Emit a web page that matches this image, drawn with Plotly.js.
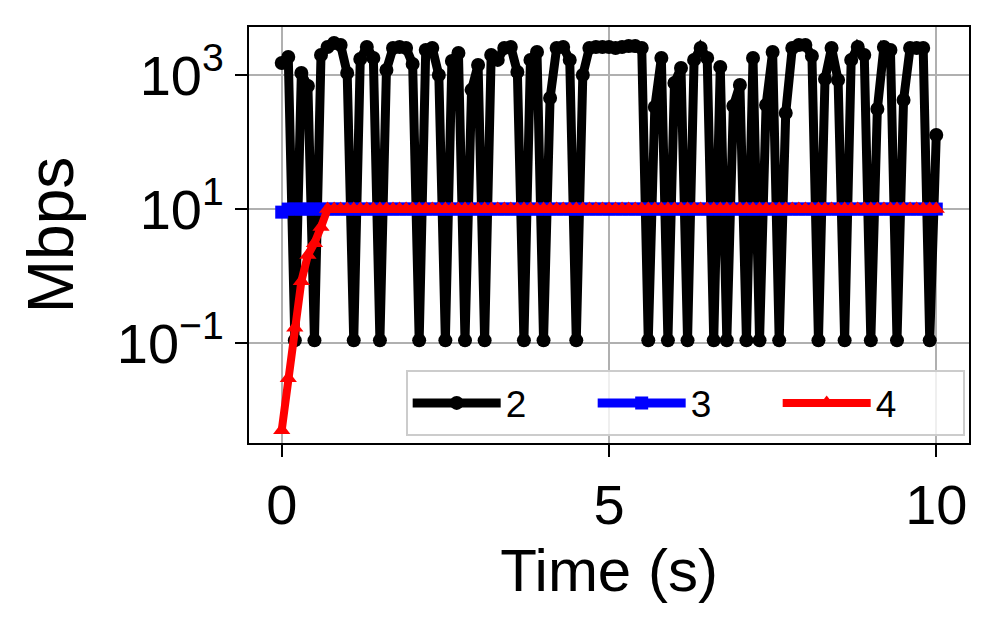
<!DOCTYPE html>
<html>
<head>
<meta charset="utf-8">
<script src="https://cdn.plot.ly/plotly-3.0.1.min.js"></script>
<style>html,body{margin:0;padding:0;background:#fff;}#chart{width:998px;height:629px;}</style>
</head>
<body>
<div id="chart"></div>
<script>
const timeS = [0,0.1,0.2,0.3,0.4,0.5,0.6,0.7,0.8,0.9,1,1.1,1.2,1.3,1.4,1.5,1.6,1.7,1.8,1.9,2,2.1,2.2,2.3,2.4,2.5,2.6,2.7,2.8,2.9,3,3.1,3.2,3.3,3.4,3.5,3.6,3.7,3.8,3.9,4,4.1,4.2,4.3,4.4,4.5,4.6,4.7,4.8,4.9,5,5.1,5.2,5.3,5.4,5.5,5.6,5.7,5.8,5.9,6,6.1,6.2,6.3,6.4,6.5,6.6,6.7,6.8,6.9,7,7.1,7.2,7.3,7.4,7.5,7.6,7.7,7.8,7.9,8,8.1,8.2,8.3,8.4,8.5,8.6,8.7,8.8,8.9,9,9.1,9.2,9.3,9.4,9.5,9.6,9.7,9.8,9.9,10];

const series2 = [1510,1860,0.11,1070,685,0.11,1990,2620,3000,2800,
  1070,0.11,1730,2620,1790,0.11,1190,2530,2620,2530,
  1460,0.11,2360,2530,1000,0.11,1620,2130,0.11,600,
  1410,0.11,1990,1680,2530,2620,1110,0.11,1680,2200,
  0.11,454,2530,2620,1680,0.11,1000,2530,2620,2620,
  2620,2530,2620,2710,2710,2530,0.11,333,1790,0.11,
  760,1270,0.11,1680,2530,1790,0.11,1320,0.11,345,
  709,0.11,1790,0.11,357,2200,0.11,271,2530,2800,
  2800,1920,0.11,871,2530,842,0.11,1680,2620,1990,
  0.11,311,2620,2360,0.11,424,2530,2530,2530,0.11,
  127];

const series3 = [9,10,10,10,10,10,10,10,10,10,
  10,10,10,10,10,10,10,10,10,10,
  10,10,10,10,10,10,10,10,10,10,
  10,10,10,10,10,10,10,10,10,10,
  10,10,10,10,10,10,10,10,10,10,
  10,10,10,10,10,10,10,10,10,10,
  10,10,10,10,10,10,10,10,10,10,
  10,10,10,10,10,10,10,10,10,10,
  10,10,10,10,10,10,10,10,10,10,
  10,10,10,10,10,10,10,10,10,10,
  10];

const series4 = [0.005,0.03,0.17,0.84,2.06,3.1,5.4,10,10,10,
  10,10,10,10,10,10,10,10,10,10,
  10,10,10,10,10,10,10,10,10,10,
  10,10,10,10,10,10,10,10,10,10,
  10,10,10,10,10,10,10,10,10,10,
  10,10,10,10,10,10,10,10,10,10,
  10,10,10,10,10,10,10,10,10,10,
  10,10,10,10,10,10,10,10,10,10,
  10,10,10,10,10,10,10,10,10,10,
  10,10,10,10,10,10,10,10,10,10,
  10];

const seriesNames = ['2','3','4'];
const xTickVals = [0,5,10];
const xTickText = ['0','5','10'];
const yTickVals = [0.1,10,1000];
const yTickText = ['10<sup>\u22121</sup>','10<sup>1</sup>','10<sup>3</sup>'];

const FONT = 'Liberation Sans, Arial, Helvetica, sans-serif';

const traces = [
  {x: timeS, y: series2, name: seriesNames[0], type: 'scatter', mode: 'lines+markers',
   line: {color: '#000000', width: 9}, marker: {symbol: 'circle', size: 14, color: '#000000'}},
  {x: timeS, y: series3, name: seriesNames[1], type: 'scatter', mode: 'lines+markers',
   line: {color: '#0000ff', width: 9}, marker: {symbol: 'square', size: 13, color: '#0000ff'}},
  {x: timeS, y: series4, name: seriesNames[2], type: 'scatter', mode: 'lines+markers',
   line: {color: '#ff0000', width: 8}, marker: {symbol: 'triangle-up', size: 15, color: '#ff0000'}}
];

const layout = {
  width: 998, height: 629,
  margin: {l: 249, r: 29, t: 27, b: 186},
  paper_bgcolor: '#ffffff', plot_bgcolor: '#ffffff',
  font: {family: FONT, color: '#000000', size: 46},
  showlegend: true,
  xaxis: {
    range: [-0.5, 10.5],
    tickvals: xTickVals, ticktext: xTickText,
    showgrid: true, gridcolor: '#b0b0b0', gridwidth: 2,
    zeroline: false,
    showline: true, linecolor: '#000000', linewidth: 2, mirror: true,
    ticks: 'outside', ticklen: 12, tickwidth: 2, tickcolor: '#000000',
    tickfont: {family: FONT, size: 56, color: '#000000'},
    title: {text: 'Time (s)', font: {family: FONT, size: 60, color: '#000000'}, standoff: 14}
  },
  yaxis: {
    type: 'log',
    range: [-2.49, 3.716],
    tickvals: yTickVals, ticktext: yTickText,
    showgrid: true, gridcolor: '#b0b0b0', gridwidth: 2,
    zeroline: false,
    showline: true, linecolor: '#000000', linewidth: 2, mirror: true,
    ticks: 'outside', ticklen: 12, tickwidth: 2, tickcolor: '#000000',
    tickfont: {family: FONT, size: 56, color: '#000000'},
    title: {text: 'Mbps', font: {family: FONT, size: 64, color: '#000000'}, standoff: 22}
  },
  legend: {
    orientation: 'h',
    x: 0.994, xanchor: 'right', y: 0.016, yanchor: 'bottom',
    bgcolor: 'rgba(255,255,255,0.8)', bordercolor: '#cccccc', borderwidth: 2,
    font: {family: FONT, size: 37, color: '#000000'},
    itemwidth: 88,
    entrywidth: 82, entrywidthmode: 'pixels'
  }
};

Plotly.newPlot('chart', traces, layout, {staticPlot: true, displayModeBar: false});
</script>
</body>
</html>
